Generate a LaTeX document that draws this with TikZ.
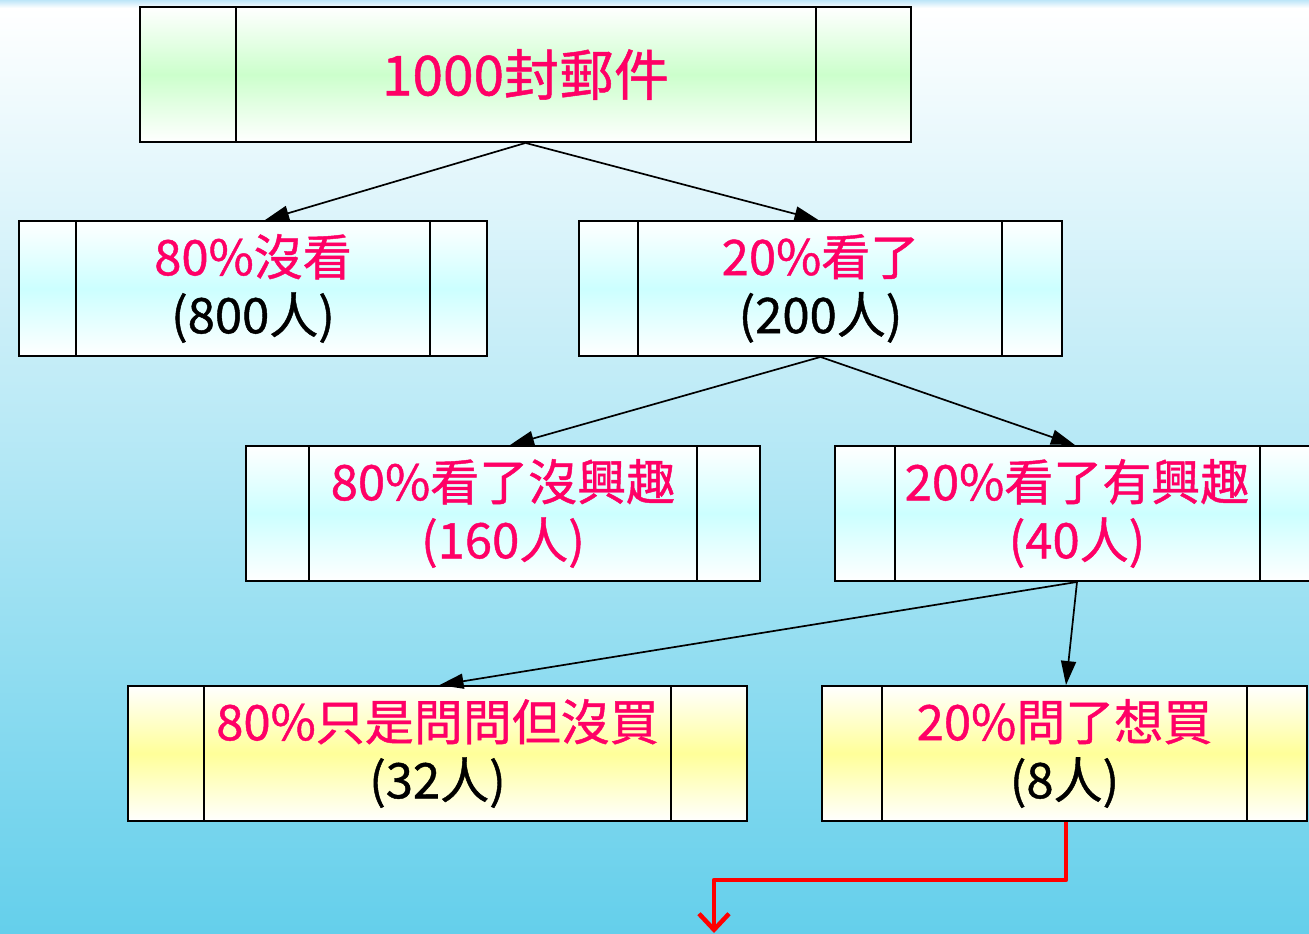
\documentclass[tikz,border=0pt]{standalone}
\usepackage{fontspec}
\setmainfont{Noto Sans CJK TC}[FakeBold=0.9]
\usetikzlibrary{arrows.meta}
\definecolor{cpink}{RGB}{255,0,102}
\definecolor{cgreen}{RGB}{204,255,204}
\definecolor{ccyan}{RGB}{204,255,255}
\definecolor{cyellow}{RGB}{255,255,153}
\definecolor{bgblue}{RGB}{100,207,235}
\definecolor{topstrip}{RGB}{190,230,248}
\newcommand{\innerlines}[3]{%
  \draw[inner] ([xshift=#2]#1.north west) -- ([xshift=#2]#1.south west);
  \draw[inner] ([xshift=-#3]#1.north east) -- ([xshift=-#3]#1.south east);}
\tikzset{
  proc/.style={draw=black, line width=1.9pt, rectangle, inner sep=0pt,
    minimum height=135pt, align=center, text=black,
    font=\fontsize{49}{58}\selectfont},
  gbox/.style={proc, top color=white, bottom color=white, middle color=cgreen},
  cbox/.style={proc, top color=white, bottom color=white, middle color=ccyan},
  ybox/.style={proc, top color=white, bottom color=white, middle color=cyellow},
  inner/.style={line width=1.6pt, black},
  conn/.style={line width=1.7pt, black, -{Triangle[length=24pt,width=15pt]}},
  hot/.style={line width=4.5pt, red, line join=round, -{Straight Barb[length=16pt,width=30pt,line width=4.5pt]}},
  pk/.style={text=cpink}
}
\begin{document}
\begin{tikzpicture}[x=1pt,y=-1pt]
\clip (0,0) rectangle (1309,934);
\useasboundingbox (0,0) rectangle (1309,934);
\shade[top color=white, bottom color=bgblue] (0,8) rectangle (1309,934);
\shade[top color=topstrip, bottom color=white] (0,0) rectangle (1309,8);

\node[gbox, minimum width=771pt, font=\fontsize{55}{60}\selectfont] (top) at (525.5,74.5) {\textcolor{cpink}{1000封郵件}};
\innerlines{top}{97}{96}

\node[cbox, minimum width=468pt] (n1) at (253,288.5) {\textcolor{cpink}{80\%沒看}\\(800人)};
\innerlines{n1}{58}{58}

\node[cbox, minimum width=483pt] (n2) at (820.5,288.5) {\textcolor{cpink}{20\%看了}\\(200人)};
\innerlines{n2}{60}{61}

\node[cbox, minimum width=514pt] (n3) at (503,513.5) {\textcolor{cpink}{80\%看了沒興趣}\\\textcolor{cpink}{(160人)}};
\innerlines{n3}{64}{64}

\node[cbox, minimum width=484pt] (n4) at (1077,513.5) {\textcolor{cpink}{20\%看了有興趣}\\\textcolor{cpink}{(40人)}};
\innerlines{n4}{61}{60}

\node[ybox, minimum width=619pt] (n5) at (437.5,753.5) {\textcolor{cpink}{80\%只是問問但沒買}\\(32人)};
\innerlines{n5}{77}{77}

\node[ybox, minimum width=485pt] (n6) at (1064.5,753.5) {\textcolor{cpink}{20\%問了想買}\\(8人)};
\innerlines{n6}{61}{61}

\draw[conn] (top.south) -- ([xshift=12]n1.north);
\draw[conn] (top.south) -- ([xshift=-2]n2.north);
\draw[conn] (n2.south) -- ([xshift=7]n3.north);
\draw[conn] (n2.south) -- ([xshift=-2]n4.north);
\draw[conn] (n4.south) -- ([xshift=2]n5.north);
\draw[conn] (n4.south) -- ([xshift=1.5]n6.north);

\coordinate (r2) at (714,880);
\coordinate (r3) at (714,933);
\draw[hot] ([xshift=1.5]n6.south) |- (r2) -- (r3);
\end{tikzpicture}
\end{document}
